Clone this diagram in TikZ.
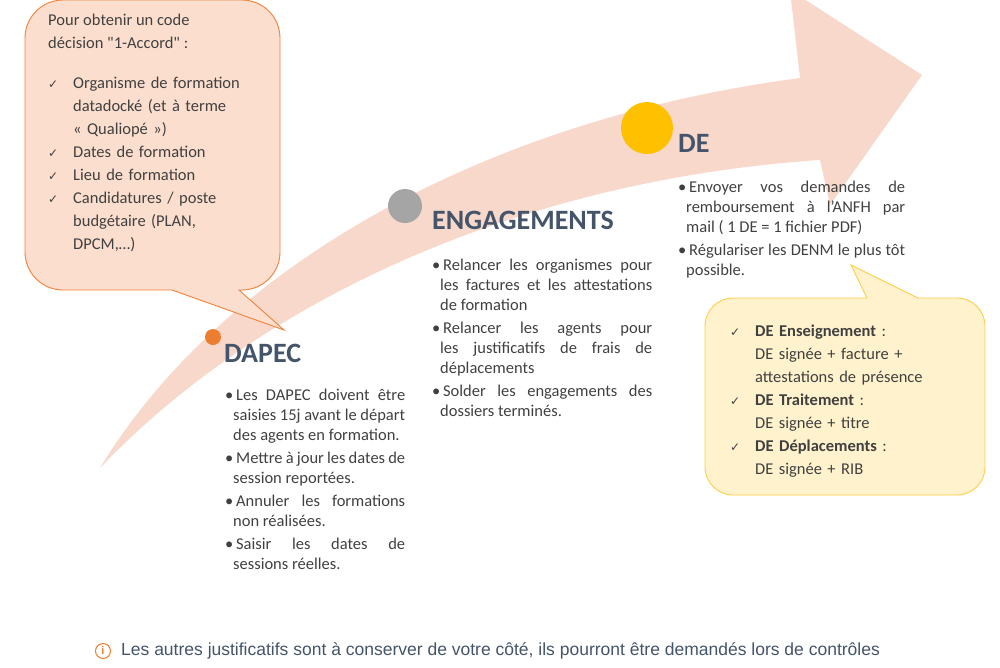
\documentclass[tikz,border=0pt]{standalone}
\usepackage{fontspec}
\setmainfont{Carlito}
\newfontfamily\arialf{Liberation Sans}
\newfontfamily\symf{DejaVu Sans}
\usetikzlibrary{positioning}
\definecolor{titleblue}{RGB}{68,84,106}
\definecolor{bodytext}{RGB}{64,64,64}
\definecolor{arrowpink}{RGB}{248,216,202}
\definecolor{peach}{RGB}{251,222,206}
\definecolor{peachline}{RGB}{240,130,60}
\definecolor{paleyellow}{RGB}{255,242,204}
\definecolor{yellowline}{RGB}{255,205,70}
\definecolor{dotorange}{RGB}{237,125,49}
\definecolor{dotgray}{RGB}{165,165,165}
\definecolor{dotyellow}{RGB}{255,192,0}
\hyphenpenalty=10000 \exhyphenpenalty=10000
\newcommand{\bul}[1]{\par\hangindent=8pt\hangafter=1\noindent\textbullet\,#1\par\vspace{3pt}}
\newcommand{\chk}[1]{\par\hangindent=25pt\hangafter=1\noindent\makebox[25pt][l]{\symf\fontsize{12}{12}\selectfont ✓}#1\par}
\newcommand{\cnt}[1]{\par\leftskip=25pt\noindent#1\par\leftskip=0pt}
\begin{document}
\begin{tikzpicture}[x=1pt,y=-1pt,
  steptitle/.style={anchor=west,font=\bfseries\fontsize{28}{30}\selectfont,text=titleblue,inner sep=0pt},
  stepbody/.style={anchor=north west,text width=#1,align=justify,inner sep=0pt,
    font=\fontsize{16.5}{20}\selectfont,text=bodytext},
  callout/.style={text=bodytext,font=\fontsize{16.5}{23}\selectfont,anchor=north west,inner sep=0pt,align=left}]
\useasboundingbox (0,0) rectangle (1000,667);
% big arrow
\fill[arrowpink] (100,468) .. controls (220,270) and (480,120) .. (800,78)
  -- (790,-10) -- (922,75) -- (830,205) -- (820,160)
  .. controls (520,180) and (260,300) .. (100,468);
% left callout
\draw[peachline,fill=peach,line width=0.9pt,rounded corners=38pt]
  (172,290) -- (25,290) -- (25,0) -- (280,0) -- (280,290) [sharp corners] -- (239,290) -- (284,330) -- cycle;
\node[callout] (cond) at (48,14) {Pour obtenir un code\\décision \textquotedbl 1-Accord\textquotedbl{} :};
\node[callout,text width=205pt,below=16pt of cond.south west,anchor=north west] (condlist) {%
  \chk{Organisme de formation datadocké (et à terme «~Qualiopé~»)}%
  \chk{Dates de formation}\chk{Lieu de formation}%
  \chk{Candidatures / poste budgétaire (PLAN, DPCM,…)}};
% right callout
\fill[paleyellow,rounded corners=28pt] (705,298) -- (985,298) -- (985,495) -- (705,495) -- cycle;
\draw[yellowline,line width=0.9pt,rounded corners=28pt]
  (867,298) -- (705,298) -- (705,495) -- (985,495) -- (985,298) -- (918,298);
\fill[paleyellow] (867,298.5) -- (851,265) -- (918,298.5) -- cycle;
\draw[yellowline,line width=0.9pt] (867,298) -- (851,265) -- (918,298);
\node[callout,text width=210pt] (delist) at (730,313) {%
  \chk{\textbf{DE Enseignement} :}\cnt{DE signée + facture +}\cnt{attestations de présence}%
  \chk{\textbf{DE Traitement} :}\cnt{DE signée + titre}%
  \chk{\textbf{DE Déplacements} :}\cnt{DE signée + RIB}};
% steps
\fill[dotorange] (213,337) circle (8);
\fill[dotgray] (405,206) circle (17);
\fill[dotyellow] (647,128) circle (26);
\node[steptitle] (dapec) at (224,353) {DAPEC};
\node[steptitle] (eng) at (432,220) {ENGAGEMENTS};
\node[steptitle] (de) at (678,143) {DE};
\node[stepbody=180pt] (dapecbody) at (225,380) {%
  \bul{Les DAPEC doivent être saisies 15j avant le départ des agents en formation.}%
  \bul{Mettre à jour les dates de session reportées.}%
  \bul{Annuler les formations non réalisées.}%
  \bul{Saisir les dates de sessions réelles.}};
\node[stepbody=220pt] (engbody) at (432,250) {%
  \bul{Relancer les organismes pour les factures et les attestations de formation}%
  \bul{Relancer les agents pour les justificatifs de frais de déplacements}%
  \bul{Solder les engagements des dossiers terminés.}};
\node[stepbody=227pt] (debody) at (678,172) {%
  \bul{Envoyer vos demandes de remboursement à l'ANFH par mail ( 1 DE = 1 fichier PDF)}%
  \bul{Régulariser les DENM le plus tôt possible.}};
% note
\node[circle,draw=dotorange,line width=1pt,inner sep=0pt,minimum size=15pt,text=dotorange,font=\arialf\bfseries\fontsize{11}{11}\selectfont] (info) at (103,651) {i};
\node[anchor=west,inner sep=0pt,text=titleblue,font=\arialf\fontsize{17.5}{20}\selectfont,right=10pt of info] (note) {Les autres justificatifs sont à conserver de votre côté, ils pourront être demandés lors de contrôles};
\end{tikzpicture}
\end{document}
